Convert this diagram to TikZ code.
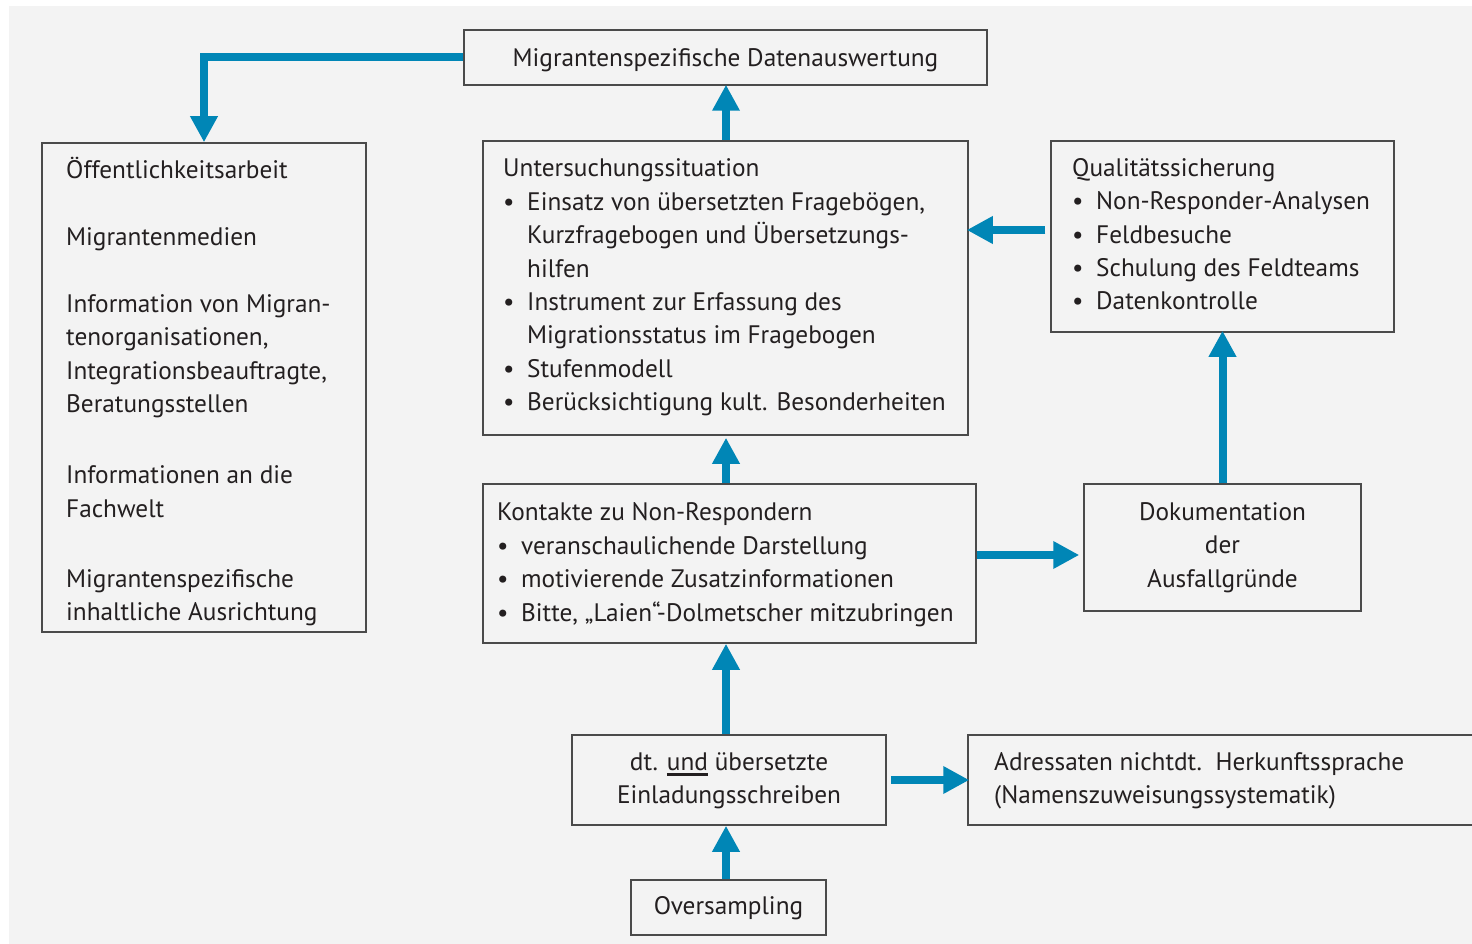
\documentclass[tikz,border=0pt]{standalone}
\usepackage{fontspec}
\setmainfont{PT Sans}
\usetikzlibrary{arrows.meta,calc}
\definecolor{bg}{HTML}{F3F3F3}
\definecolor{arrblue}{HTML}{0086B6}
\definecolor{framec}{HTML}{4A4A4A}
\definecolor{txtc}{HTML}{231F20}
\newcommand\ulthick[1]{\vtop{\hbox{#1}\kern2pt\hrule height 3pt}}
\newcommand\bl{\makebox[24pt][l]{\textbullet}}
\newcommand\ind{\hspace*{24pt}}
\newcommand\st{\rule{0pt}{26pt}}
\begin{document}
\begin{tikzpicture}[x=1pt,y=-1pt,
  box/.style={draw=framec,line width=1.5pt,fill=bg,inner sep=0pt,rectangle},
  txt/.style={inner sep=0pt,align=left,anchor=north west,text=txtc,font=\fontsize{25.3}{33.4}\selectfont},
  ctxt/.style={txt,align=center,anchor=north},
  arr/.style={draw=arrblue,line width=8pt,-{Triangle[width=26pt,length=26pt]}}]
\useasboundingbox[fill=white] (0,0) rectangle (1472,944);
\fill[bg] (9,6) rectangle (1472,944);
\coordinate (ax) at (726,0);
\coordinate (y230) at (0,230);
\coordinate (y555) at (0,555);
% boxes
\node[box,minimum width=523pt,minimum height=55pt] (top) at (725.5,57.5) {};
\node[box,minimum width=324pt,minimum height=489pt] (left) at (204,387.5) {};
\node[box,minimum width=485pt,minimum height=294pt] (unt) at (725.5,288) {};
\node[box,minimum width=343pt,minimum height=191pt] (qual) at (1222.5,236.5) {};
\node[box,minimum width=493pt,minimum height=159pt] (kon) at (729.5,563.5) {};
\node[box,minimum width=277pt,minimum height=127pt] (dok) at (1222.5,547.5) {};
\node[box,minimum width=314pt,minimum height=90pt] (dt) at (729,780) {};
\node[box,minimum width=512pt,minimum height=90pt] (adr) at (1224,780) {};
\node[box,minimum width=195pt,minimum height=55pt] (over) at (728.5,907.5) {};
% texts
\node[ctxt] (toptxt) at (725.5,40) {\st Migrantenspezifische Datenauswertung};
\node[txt] (lefttxt) at (66,152.3) {\st Öffentlichkeitsarbeit\\[33.6pt]
Migrantenmedien\\[33.6pt]
Information von Migran-\\
tenorganisationen,\\
Integrationsbeauftragte,\\
Beratungsstellen\\[37.6pt]
Informationen an die\\
Fachwelt\\[36.6pt]
Migrantenspezifische\\
inhaltliche Ausrichtung};
\node[txt] (unttxt) at (503,150.7) {\st Untersuchungssituation\\
\bl Einsatz von übersetzten Fragebögen,\\
\ind Kurzfragebogen und Übersetzungs-\\
\ind hilfen\\
\bl Instrument zur Erfassung des\\
\ind Migrationsstatus im Fragebogen\\
\bl Stufenmodell\\
\bl Berücksichtigung kult. Besonderheiten};
\node[txt] (qualtxt) at (1072,150) {\st Qualitätssicherung\\
\bl Non-Responder-Analysen\\
\bl Feldbesuche\\
\bl Schulung des Feldteams\\
\bl Datenkontrolle};
\node[txt] (kontxt) at (497,494.7) {\st Kontakte zu Non-Respondern\\
\bl veranschaulichende Darstellung\\
\bl motivierende Zusatzinformationen\\
\bl Bitte, „Laien“-Dolmetscher mitzubringen};
\node[ctxt] (doktxt) at (1222.5,494) {\st Dokumentation\\der\\Ausfallgründe};
\node[ctxt] (dttxt) at (729,744) {\st dt. \ulthick{und} übersetzte\\Einladungsschreiben};
\node[txt] (adrtxt) at (994,744) {\st Adressaten nichtdt.\ \ Herkunftssprache\\(Namenszuweisungssystematik)};
\node[ctxt] (overtxt) at (728.5,888) {\st Oversampling};
% arrows
\draw[arr] (top.west) -| (left.north);
\draw[arr] (unt.north -| ax) -- ([yshift=1pt]top.south -| ax);
\draw[arr] ($(qual.west |- y230)+(-5,0)$) -- ($(unt.east |- y230)+(-2,0)$);
\draw[arr] (kon.north -| ax) -- ([yshift=-2pt]unt.south -| ax);
\draw[arr] (kon.east |- y555) -- ($(dok.west |- y555)+(-4,0)$);
\draw[arr] (dok.north) -- ([yshift=2pt]qual.south);
\draw[arr] (dt.north -| ax) -- (kon.south -| ax);
\draw[arr] ($(dt.east)+(4,0)$) -- ($(adr.west)+(2,0)$);
\draw[arr] (over.north -| ax) -- (dt.south -| ax);
\end{tikzpicture}
\end{document}
